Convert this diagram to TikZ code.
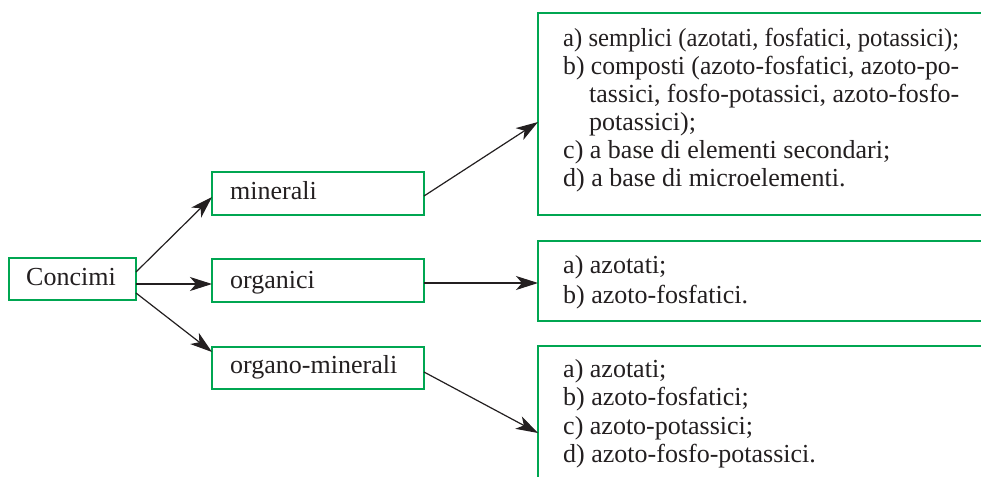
\documentclass[tikz,border=0pt]{standalone}
\usepackage{fontspec}
\setmainfont{Liberation Serif}
\usetikzlibrary{arrows.meta}
\definecolor{boxgreen}{HTML}{00A651}
\definecolor{ink}{HTML}{231F20}
\begin{document}
\begin{tikzpicture}[x=1pt,y=-1pt,
  box/.style={draw=boxgreen, line width=2.2pt, inner sep=0pt, outer sep=0pt, anchor=north west},
  txt/.style={anchor=base west, inner sep=0pt, text=ink, font=\fontsize{26}{30}\selectfont},
  arr/.style={-{Stealth[length=22pt,width=14pt,inset=6pt]}, line width=1.2pt, draw=ink}]
\clip (0,0) rectangle (981,476);
\fill[white] (0,0) rectangle (981,476);
% boxes
\node[box, minimum width=127pt, minimum height=42pt] (conc) at (9,258) {};
\node[box, minimum width=212pt, minimum height=43pt] (min) at (212,172) {};
\node[box, minimum width=212pt, minimum height=43pt] (org) at (212,259) {};
\node[box, minimum width=212pt, minimum height=42pt] (orgmin) at (212,347) {};
\node[box, minimum width=470pt, minimum height=202pt] (r1) at (538,13) {};
\node[box, minimum width=470pt, minimum height=80pt] (r2) at (538,241) {};
\node[box, minimum width=470pt, minimum height=160pt] (r3) at (538,346) {};
% left texts
\node[txt] (tconc) at (26,285) {Concimi};
\node[txt] (tmin) at (230,199) {minerali};
\node[txt] (torg) at (230,288) {organici};
\node[txt] (torgmin) at (230,373) {organo-minerali};
% box 1 texts
\node[txt] (r1a) at (563,47) {\resizebox{396pt}{\height}{a) semplici (azotati, fosfatici, potassici);}};
\node[txt] (r1b) at (563,74.8) {\resizebox{396pt}{\height}{b) composti (azoto-fosfatici, azoto-po-}};
\node[txt] (r1b2) at (589,102.6) {\resizebox{370pt}{\height}{tassici, fosfo-potassici, azoto-fosfo-}};
\node[txt] (r1b3) at (589,130.4) {potassici);};
\node[txt] (r1c) at (563,158.2) {c) a base di elementi secondari;};
\node[txt] (r1d) at (563,186) {d) a base di microelementi.};
% box 2 texts
\node[txt] (r2a) at (563,273) {a) azotati;};
\node[txt] (r2b) at (563,303) {b) azoto-fosfatici.};
% box 3 texts
\node[txt] (r3a) at (563,377) {a) azotati;};
\node[txt] (r3b) at (563,405.5) {b) azoto-fosfatici;};
\node[txt] (r3c) at (563,434) {c) azoto-potassici;};
\node[txt] (r3d) at (563,462.5) {d) azoto-fosfo-potassici.};
% arrows
\draw[arr] ([yshift=7pt]conc.east) -- ([yshift=-3.5pt]min.west);
\draw[arr] ([yshift=-5pt]conc.east) -- ([yshift=-3.5pt]org.west);
\draw[arr] ([yshift=-14pt]conc.east) -- ([yshift=16pt]orgmin.west);
\draw[arr] ([yshift=-2.5pt]min.east) -- ([yshift=-8pt]r1.west);
\draw[arr] ([yshift=-2.5pt]org.east) -- ([yshift=-2pt]r2.west);
\draw[arr] ([yshift=-4pt]orgmin.east) -- ([yshift=-7pt]r3.west);
\end{tikzpicture}
\end{document}
